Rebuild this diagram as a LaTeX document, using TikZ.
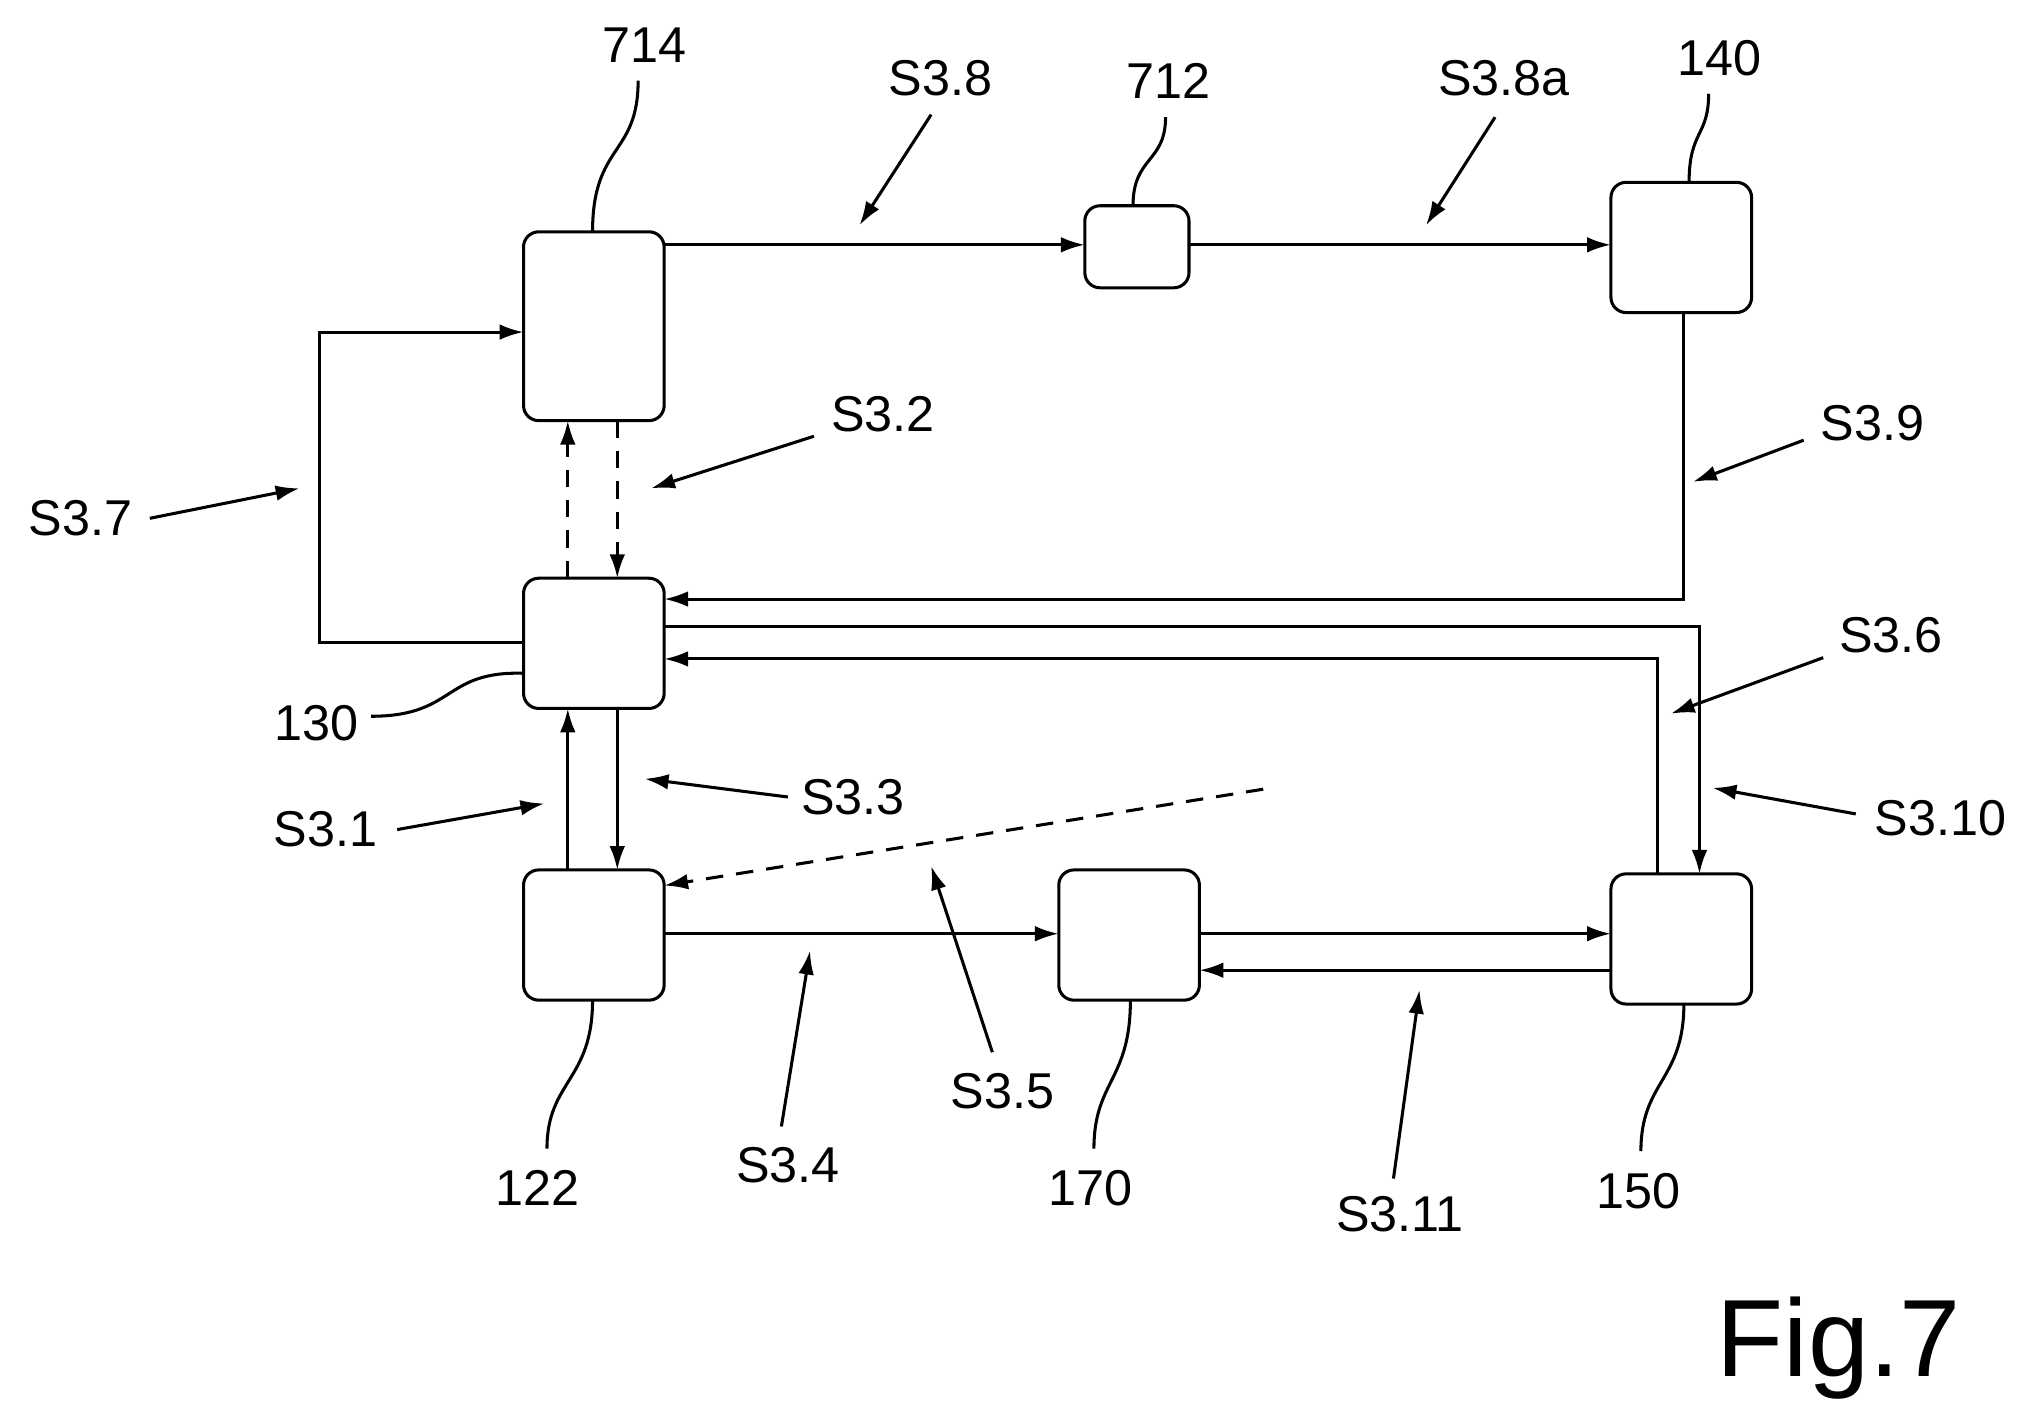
\documentclass[tikz,border=0pt]{standalone}
\usepackage{fontspec}
\setmainfont{Liberation Sans}
\usetikzlibrary{arrows.meta}
\begin{document}
\begin{tikzpicture}[x=0.3mm,y=-0.3mm,
 box/.style={draw,line width=2pt,rounded corners=3.5mm},
 ln/.style={line width=2pt},
 ar/.style={ln,-{Latex[length=5.5mm,width=3.6mm]}},
 dsh/.style={ar,dash pattern=on 4mm off 3mm},
 lbl/.style={font=\fontsize{33}{37}\selectfont,inner sep=0pt}]
\useasboundingbox (0,0) rectangle (1568,1095);
\newcommand{\bx}[5]{\draw[box] (#2,#3) rectangle (#4,#5); \coordinate (#1) at ({(#2+#4)/2},{(#3+#5)/2});}
\bx{b714}{402}{178}{510}{323}
\bx{b712}{833}{158}{913}{221}
\bx{b140}{1237}{140}{1345}{240}
\bx{b130}{402}{444}{510}{544}
\bx{b122}{402}{668}{510}{768}
\bx{b170}{813}{668}{921}{768}
\bx{b150}{1237}{671}{1345}{771}
% connectors
\draw[ar] (510,188) -- (833,188);
\draw[ar] (913,188) -- (1237,188);
\draw[ar] (1293,240) -- (1293,460) -- (510,460);
\draw[ar] (510,481) -- (1305,481) -- (1305,671);
\draw[ar] (1273,671) -- (1273,506) -- (510,506);
\draw[ar] (402,493) -- (245,493) -- (245,255) -- (402,255);
\draw[dsh] (436,444) -- (436,323);
\draw[dsh] (474,323) -- (474,444);
\draw[ar] (436,668) -- (436,544);
\draw[ar] (474,544) -- (474,668);
\draw[ar] (510,717) -- (813,717);
\draw[ar] (921,717) -- (1237,717);
\draw[ar] (1237,745) -- (921,745);
\draw[dsh] (970,606) -- (510,680);
% reference numerals
\node[lbl] (n714) at (495,35) {714};
\draw[ln] (455,178) .. controls (455,110) and (490,120) .. (490,62);
\node[lbl] (n712) at (897,62) {712};
\draw[ln] (870,158) .. controls (870,120) and (895,125) .. (895,90);
\node[lbl] (n140) at (1320,45) {140};
\draw[ln] (1297,140) .. controls (1297,100) and (1312,105) .. (1312,72);
\node[lbl] (n130) at (243,555) {130};
\draw[ln] (402,517) .. controls (340,515) and (350,550) .. (285,550);
\node[lbl] (n122) at (413,912) {122};
\draw[ln] (455,768) .. controls (455,830) and (420,830) .. (420,882);
\node[lbl] (n170) at (837,912) {170};
\draw[ln] (868,768) .. controls (868,830) and (840,830) .. (840,882);
\node[lbl] (n150) at (1258,915) {150};
\draw[ln] (1293,771) .. controls (1293,830) and (1260,830) .. (1260,884);
% step labels
\node[lbl] at (722,60) {S3.8}; \draw[ar] (715,88) -- (660,173);
\node[lbl] at (1155,60) {S3.8a}; \draw[ar] (1148,90) -- (1095,173);
\node[lbl] at (678,318) {S3.2}; \draw[ar] (625,335) -- (500,375);
\node[lbl] at (62,398) {S3.7}; \draw[ar] (115,398) -- (230,375);
\node[lbl] at (1438,325) {S3.9}; \draw[ar] (1385,338) -- (1300,370);
\node[lbl] at (1452,488) {S3.6}; \draw[ar] (1400,505) -- (1283,548);
\node[lbl] at (1490,628) {S3.10}; \draw[ar] (1425,625) -- (1315,605);
\node[lbl] at (250,637) {S3.1}; \draw[ar] (305,637) -- (418,617);
\node[lbl] at (655,612) {S3.3}; \draw[ar] (605,612) -- (495,598);
\node[lbl] at (770,838) {S3.5}; \draw[ar] (762,808) -- (715,665);
\node[lbl] at (605,895) {S3.4}; \draw[ar] (600,865) -- (622,730);
\node[lbl] at (1075,932) {S3.11}; \draw[ar] (1070,905) -- (1090,760);
\node[lbl,font=\fontsize{72}{78}\selectfont] at (1412,1035) {Fig.7};
\end{tikzpicture}
\end{document}
